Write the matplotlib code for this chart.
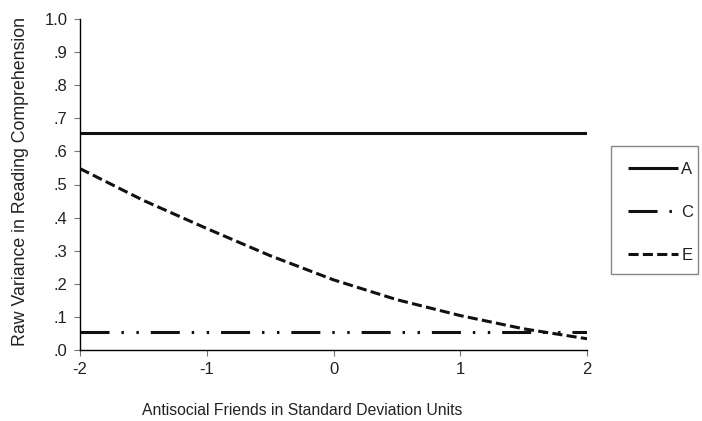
import numpy as np
import matplotlib
matplotlib.use('Agg')
import matplotlib.pyplot as plt
from matplotlib.patches import Rectangle

plt.rcParams['font.family'] = ['Liberation Sans', 'DejaVu Sans']

# values
x = [-2, -1, 0, 1, 2]
A = [0.655, 0.655, 0.655, 0.655, 0.655]
C = [0.053, 0.053, 0.053, 0.053, 0.053]
E_x = [-2, -1.5, -1, -0.5, 0, 0.5, 1, 1.5, 2]
E = [0.548, 0.452, 0.367, 0.285, 0.212, 0.152, 0.104, 0.064, 0.034]

yticks = [0.0, 0.1, 0.2, 0.3, 0.4, 0.5, 0.6, 0.7, 0.8, 0.9, 1.0]
ytick_labels = ['.0', '.1', '.2', '.3', '.4', '.5', '.6', '.7', '.8', '.9', '1.0']

fig = plt.figure(figsize=(7.02, 4.21), dpi=100)
ax = fig.add_axes([80 / 702, 1 - 350 / 421, 507 / 702, 331 / 421])

lw = 2.2
ax.plot(x, A, color='#111111', lw=lw, solid_capstyle='butt', label='A')
lc, = ax.plot(x, C, color='#111111', lw=lw, label='C')
lc.set_dashes([9.5, 3.9, 0.8, 4.1, 0.8, 3.9])
le, = ax.plot(E_x, E, color='#111111', lw=lw, label='E')
le.set_dashes([3.3, 1.4])

ax.set_xlim(-2, 2)
ax.set_ylim(0, 1.0)
ax.set_xticks(x)
ax.set_xticklabels(['-2', '-1', '0', '1', '2'])
ax.set_yticks(yticks)
ax.set_yticklabels(ytick_labels)

for s in ['top', 'right']:
    ax.spines[s].set_visible(False)
for s in ['left', 'bottom']:
    ax.spines[s].set_color('black')
    ax.spines[s].set_linewidth(1.0)
ax.tick_params(direction='out', length=4, width=0.8, color='#777777',
               labelsize=12, labelcolor='#222222', pad=5)

ax.set_xlabel('Antisocial Friends in Standard Deviation Units', fontsize=11.3, color='#222222')
ax.xaxis.set_label_coords(0.438, -0.16)
ax.set_ylabel('Raw Variance in Reading Comprehension', fontsize=12.8, color='#222222')
ax.yaxis.set_label_coords(-0.1, 0.51)

# legend box drawn separately so its size matches the reference
fig.add_artist(Rectangle((611 / 702, 1 - 274 / 421), 87 / 702, 128 / 421,
                         transform=fig.transFigure, fill=False,
                         edgecolor='#888888', linewidth=1.0))
leg = ax.legend(loc='upper left', bbox_to_anchor=(628 / 702, 1 - 162 / 421),
                bbox_transform=fig.transFigure, fontsize=12, frameon=False,
                handlelength=3.0, handletextpad=0.2, labelspacing=1.68,
                borderpad=0, borderaxespad=0)
for t in leg.get_texts():
    t.set_color('#222222')

fig.savefig('out.png', dpi=100)
